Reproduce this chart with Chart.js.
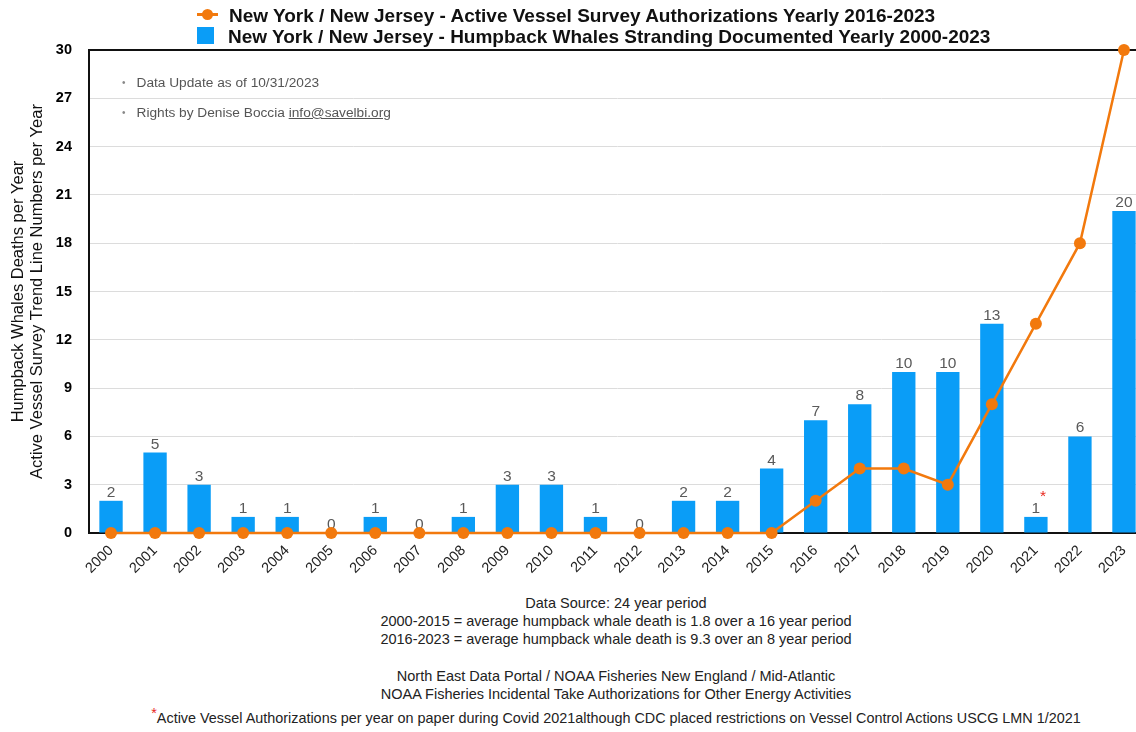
<!DOCTYPE html>
<html>
<head>
<meta charset="utf-8">
<script src="https://cdn.jsdelivr.net/npm/chart.js@4.4.1/dist/chart.umd.min.js"></script>
<style>
  body { margin: 0; width: 1136px; height: 732px; overflow: hidden; background: #fff; position: relative;
         font-family: "Liberation Sans", Arial, sans-serif; }
  #wrap { position: absolute; left: 0; top: 0; width: 1152px; height: 593px; }
  #legend { position: absolute; left: 197px; top: 5px; font-size: 19px; font-weight: bold; color: #111; }
  .row { height: 21px; line-height: 21px; white-space: nowrap; }
  .mk { display: inline-block; vertical-align: middle; position: relative; width: 21px; height: 17px; margin-right: 11px; top: -2px; }
  .mk.line::before { content: ""; position: absolute; left: 0; right: 0; top: 7px; height: 3px; background: #f2790d; }
  .mk.line::after { content: ""; position: absolute; left: 5px; top: 3px; width: 11px; height: 11px; border-radius: 50%; background: #f2790d; }
  .mk.bar { width: 17px; background: #0a9df7; margin-right: 14px; }
  .note { position: absolute; left: 122px; font-size: 13.7px; color: #555; white-space: nowrap; }
  .note .b { font-size: 10px; margin-right: 11px; position: relative; top: -1px; color: #888; }
  .note a { color: #555; text-decoration: underline; }
  .foot { position: absolute; left: 0; width: 1232px; text-align: center; font-size: 14.5px; color: #222; white-space: nowrap; }
  .star { color: #e8261c; position: relative; top: -5px; }
</style>
</head>
<body>
<div id="wrap"><canvas id="myChart" width="1152" height="593"></canvas></div>

<div id="legend">
  <div class="row"><span class="mk line"></span>New York / New Jersey - Active Vessel Survey Authorizations Yearly 2016-2023</div>
  <div class="row"><span class="mk bar"></span>New York / New Jersey - Humpback Whales Stranding Documented Yearly 2000-2023</div>
</div>

<div class="note" style="top:75px"><span class="b">&bull;</span>Data Update as of 10/31/2023</div>
<div class="note" style="top:105px"><span class="b">&bull;</span>Rights by Denise Boccia <a>info@savelbi.org</a></div>

<div class="foot" style="top:595px">Data Source: 24 year period</div>
<div class="foot" style="top:613px">2000-2015 = average humpback whale death is 1.8 over a 16 year period</div>
<div class="foot" style="top:631px">2016-2023 = average humpback whale death is 9.3 over an 8 year period</div>
<div class="foot" style="top:668px">North East Data Portal / NOAA Fisheries New England / Mid-Atlantic</div>
<div class="foot" style="top:686px">NOAA Fisheries Incidental Take Authorizations for Other Energy Activities</div>
<div class="foot" style="top:710px; font-size:14.4px"><span class="star">*</span>Active Vessel Authorizations per year on paper during Covid 2021although CDC placed restrictions on Vessel Control Actions USCG LMN 1/2021</div>

<script>
// years on the x axis
const years = ['2000', '2001', '2002', '2003', '2004', '2005', '2006', '2007', '2008', '2009', '2010', '2011',
               '2012', '2013', '2014', '2015', '2016', '2017', '2018', '2019', '2020', '2021', '2022', '2023'];
// humpback whale strandings per year (bars)
const strandings = [2, 5, 3, 1, 1, 0, 1, 0, 1, 3, 3, 1, 0, 2, 2, 4, 7, 8, 10, 10, 13, 1, 6, 20];
// active vessel survey authorizations per year (line)
const vesselAuthorizations = [0, 0, 0, 0, 0, 0, 0, 0, 0, 0, 0, 0, 0, 0, 0, 0, 2, 4, 4, 3, 8, 13, 18, 30];
// y axis range and tick step
const yMax = 30;
const yStep = 3;
// year that gets the red asterisk next to its label
const asteriskYear = '2021';

const orange = '#f2790d';
const blue = '#0a9df7';

Chart.defaults.font.family = '"Liberation Sans", Arial, sans-serif';

// black frame on the top, left and bottom of the plot, under the marks
const framePlugin = {
    id: 'frame',
    beforeDatasetsDraw(chart) {
        const { ctx, chartArea: a } = chart;
        ctx.save();
        ctx.strokeStyle = '#111';
        ctx.lineWidth = 2;
        ctx.beginPath();
        ctx.moveTo(a.right, a.top);
        ctx.lineTo(a.left, a.top);
        ctx.lineTo(a.left, a.bottom);
        ctx.lineTo(a.right, a.bottom);
        ctx.stroke();
        ctx.restore();
    }
};

// value labels above bars, drawn before the line so the dots sit on top
const barLabelPlugin = {
    id: 'barLabels',
    afterDatasetDraw(chart, args) {
        if (args.meta.type !== 'bar') return;
        const ctx = chart.ctx;
        ctx.save();
        ctx.font = '15.5px "Liberation Sans", Arial, sans-serif';
        ctx.textAlign = 'center';
        ctx.textBaseline = 'alphabetic';
        args.meta.data.forEach((bar, i) => {
            ctx.fillStyle = '#5a5a5a';
            ctx.fillText(String(strandings[i]), bar.x, bar.y - 4);
            if (years[i] === asteriskYear) {
                ctx.fillStyle = '#e8261c';
                ctx.fillText('*', bar.x + 7, bar.y - 16);
            }
        });
        ctx.restore();
    }
};

const chartCanvas = document.getElementById('myChart').getContext('2d');

new Chart(chartCanvas, {
    type: 'bar',
    data: {
        labels: years,
        datasets: [{
            type: 'line',
            label: 'New York / New Jersey - Active Vessel Survey Authorizations Yearly 2016-2023',
            data: vesselAuthorizations,
            borderColor: orange,
            backgroundColor: orange,
            borderWidth: 2.5,
            pointRadius: 6,
            pointBorderWidth: 0,
            pointBackgroundColor: orange,
            tension: 0,
            clip: false
        }, {
            type: 'bar',
            label: 'New York / New Jersey - Humpback Whales Stranding Documented Yearly 2000-2023',
            data: strandings,
            backgroundColor: blue,
            borderWidth: 0,
            barPercentage: 0.53,
            categoryPercentage: 1
        }]
    },
    options: {
        responsive: false,
        animation: false,
        devicePixelRatio: 1,
        layout: { padding: { top: 50, right: 2, left: 0, bottom: 0 } },
        plugins: {
            legend: { display: false },
            tooltip: { enabled: false }
        },
        scales: {
            x: {
                grid: { display: false },
                border: { display: false },
                ticks: {
                    color: '#222',
                    font: { size: 14.5 },
                    minRotation: 45,
                    maxRotation: 45,
                    padding: 1,
                    autoSkip: false
                },
                afterFit(scale) { scale.height = 60; }
            },
            y: {
                min: 0,
                max: yMax,
                grid: { color: '#dcdcdc', lineWidth: 1, drawTicks: false },
                border: { display: false },
                ticks: {
                    stepSize: yStep,
                    color: '#000',
                    font: { size: 14.5, weight: 'bold' },
                    padding: 17
                },
                title: {
                    display: true,
                    text: ['Humpback Whales Deaths per Year', 'Active Vessel Survey Trend Line Numbers per Year'],
                    color: '#111',
                    font: { size: 16.5, lineHeight: 1.21 },
                    padding: { top: 8, bottom: 0 }
                },
                afterFit(scale) { scale.width = 89; }
            }
        }
    },
    plugins: [framePlugin, barLabelPlugin]
});
</script>
</body>
</html>
